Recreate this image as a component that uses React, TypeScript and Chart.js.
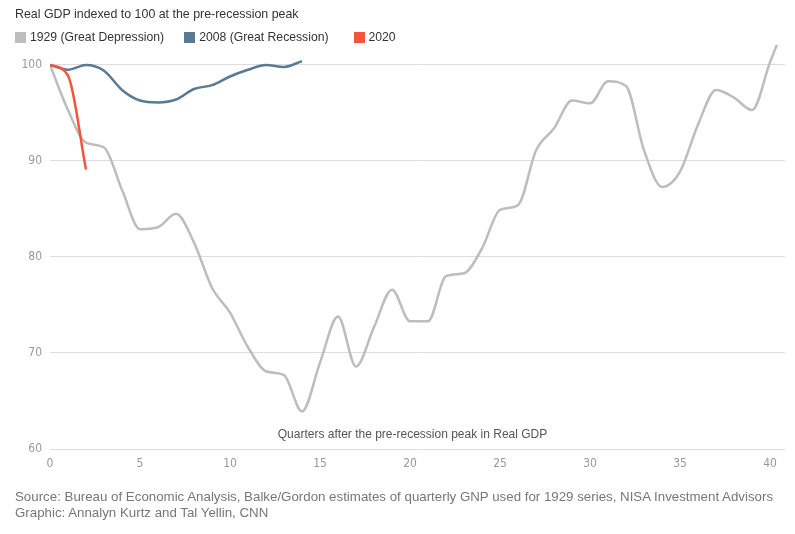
import React, { useEffect, useRef } from "react";
import { Chart, registerables } from "chart.js";

Chart.register(...registerables);

const quarters1929 = [0, 1, 2, 3, 4, 5, 6, 7, 8, 9, 10, 11, 12, 13, 14, 15, 16, 17, 18, 19, 20, 21, 22, 23, 24, 25, 26, 27, 28, 29, 30, 31, 32, 33, 34, 35, 36, 37, 38, 39, 40, 41];
const values1929 = [100, 95.3, 91.9, 91.4, 87.0, 82.9, 83.1, 84.5, 81.5, 76.8, 74.2, 70.6, 68.1, 67.7, 63.9, 69.0, 73.8, 68.6, 72.7, 76.6, 73.3, 73.3, 78.0, 78.3, 80.9, 84.9, 85.4, 91.1, 93.4, 96.3, 96.0, 98.3, 97.8, 91.1, 87.3, 88.9, 93.8, 97.4, 96.6, 95.3, 100.3, 105.0];

const quarters2008 = [0, 1, 2, 3, 4, 5, 6, 7, 8, 9, 10, 11, 12, 13, 14];
const values2008 = [100, 99.5, 100.0, 99.4, 97.4, 96.3, 96.1, 96.4, 97.5, 97.9, 98.8, 99.5, 100.0, 99.8, 100.4];

const quarters2020 = [0, 1, 2];
const values2020 = [100, 98.9, 89.1];

const seriesLabels = ["1929 (Great Depression)", "2008 (Great Recession)", "2020"];
const seriesColors = ["#bdbdbd", "#587a93", "#f4533c"];
const seriesOrder = [3, 2, 1];
const legendGaps = [20, 25, 0];

const yTicks = [60, 70, 80, 90, 100];
const xTicks = [0, 5, 10, 15, 20, 25, 30, 35, 40];

const titleText = "Real GDP indexed to 100 at the pre-recession peak";
const xAxisTitle = "Quarters after the pre-recession peak in Real GDP";
const sourceLines = [
  "Source: Bureau of Economic Analysis, Balke/Gordon estimates of quarterly GNP used for 1929 series, NISA Investment Advisors",
  "Graphic: Annalyn Kurtz and Tal Yellin, CNN",
];

const TICK_FONT = "'Liberation Sans Narrow', 'DejaVu Sans Condensed', 'Roboto', sans-serif";
const TEXT_FONT = "'Liberation Sans', Arial, sans-serif";

const toPoints = (xs: number[], ys: number[]) => xs.map((x, i) => ({ x, y: ys[i] }));

const axisTitlePlugin = {
  id: "axisTitleInside",
  afterDraw(chart: any) {
    const { ctx, chartArea } = chart;
    ctx.save();
    ctx.font = `12px ${TEXT_FONT}`;
    ctx.fillStyle = "#555555";
    ctx.textAlign = "center";
    ctx.textBaseline = "middle";
    ctx.fillText(xAxisTitle, (chartArea.left + chartArea.right) / 2 - 5, chartArea.bottom - 14);
    ctx.restore();
  },
};

export default function App() {
  const canvasRef = useRef<HTMLCanvasElement | null>(null);

  useEffect(() => {
    if (!canvasRef.current) return;
    const mk = (i: number, xs: number[], ys: number[]) => ({
      label: seriesLabels[i],
      data: toPoints(xs, ys),
      borderColor: seriesColors[i],
      backgroundColor: seriesColors[i],
      borderWidth: 2.5,
      pointRadius: 0,
      pointHoverRadius: 0,
      order: seriesOrder[i],
      cubicInterpolationMode: "monotone" as const,
      fill: false,
    });
    const chart = new Chart(canvasRef.current, {
      type: "line",
      data: {
        datasets: [
          mk(0, quarters1929, values1929),
          mk(1, quarters2008, values2008),
          mk(2, quarters2020, values2020),
        ],
      },
      options: {
        animation: false,
        responsive: false,
        maintainAspectRatio: false,
        layout: { padding: { top: 45, right: 10, bottom: 0, left: 0 } },
        plugins: {
          legend: { display: false },
          tooltip: { enabled: false },
          title: { display: false },
        },
        scales: {
          x: {
            type: "linear",
            min: 0,
            max: 40.83,
            afterBuildTicks: (scale: any) => {
              scale.ticks = xTicks.map((v) => ({ value: v }));
            },
            afterFit: (scale: any) => {
              scale.height = 85;
            },
            grid: { display: false, drawTicks: false },
            border: { display: false },
            ticks: {
              padding: 8,
              maxRotation: 0,
              autoSkip: false,
              color: "#999999",
              font: { family: TICK_FONT, size: 12 },
              callback: (v: any) => String(v),
            },
          },
          y: {
            type: "linear",
            min: 60,
            max: 102.08,
            afterBuildTicks: (scale: any) => {
              scale.ticks = yTicks.map((v) => ({ value: v }));
            },
            afterFit: (scale: any) => {
              scale.width = 50;
            },
            grid: { color: "#dddddd", lineWidth: 1, drawTicks: false },
            border: { display: false },
            ticks: {
              padding: 8,
              color: "#999999",
              font: { family: TICK_FONT, size: 12 },
              callback: (v: any) => String(v),
            },
          },
        },
      },
      plugins: [axisTitlePlugin],
    });
    return () => chart.destroy();
  }, []);

  return (
    <div
      style={{
        position: "absolute",
        left: 0,
        top: 0,
        width: 795,
        height: 534,
        background: "#ffffff",
        fontFamily: TEXT_FONT,
        overflow: "hidden",
      }}
    >
      <canvas ref={canvasRef} width={795} height={534} style={{ position: "absolute", left: 0, top: 0, width: 795, height: 534 }} />
      <div style={{ position: "absolute", left: 15, top: 7, fontSize: 12.4, color: "#333333", whiteSpace: "nowrap" }}>{titleText}</div>
      <div style={{ position: "absolute", left: 15, top: 30, fontSize: 12.2, color: "#333333", whiteSpace: "nowrap", display: "flex", alignItems: "center" }}>
        {seriesLabels.map((lab, i) => (
          <div key={lab} style={{ display: "flex", alignItems: "center", marginRight: legendGaps[i] }}>
            <span style={{ display: "inline-block", width: 11, height: 11, background: seriesColors[i], marginRight: 4 }} />
            <span>{lab}</span>
          </div>
        ))}
      </div>
      <div style={{ position: "absolute", left: 15, top: 489, fontSize: 13.3, lineHeight: "16px", color: "#777777", whiteSpace: "nowrap" }}>
        {sourceLines.map((l) => (
          <div key={l}>{l}</div>
        ))}
      </div>
    </div>
  );
}
